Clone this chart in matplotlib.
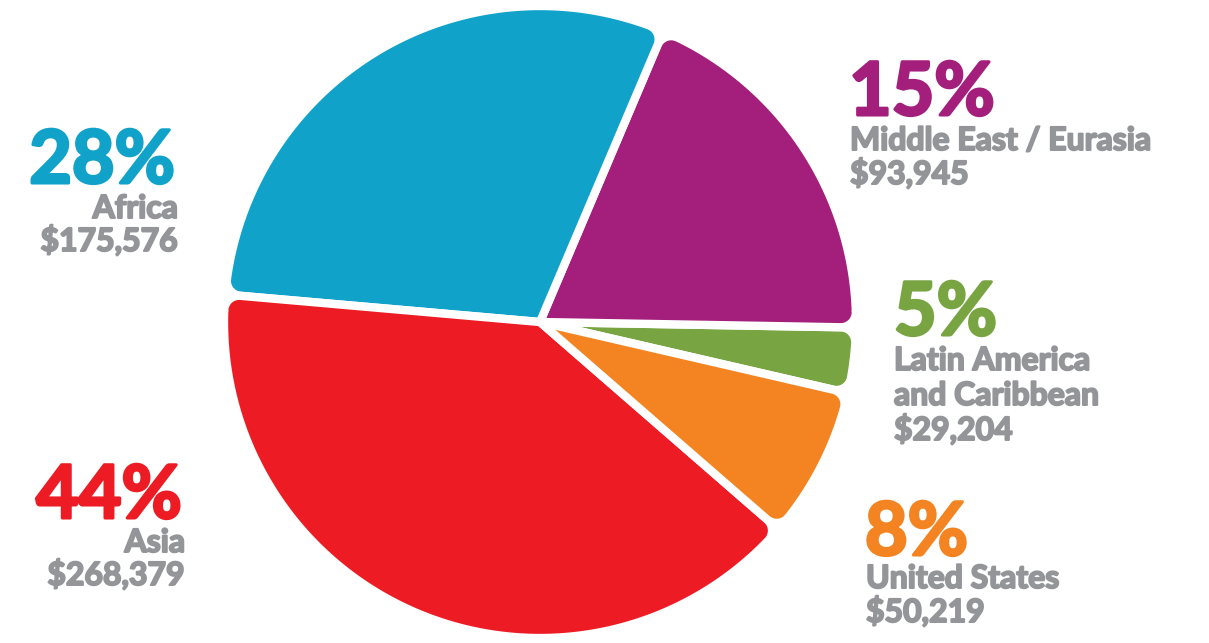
import numpy as np
import matplotlib
matplotlib.use("Agg")
import matplotlib.pyplot as plt
import matplotlib.patheffects as pe
from matplotlib.patches import Polygon

plt.rcParams['font.family'] = ['Lato', 'DejaVu Sans']

W, H = 1209, 643

# slices in drawing order (counter-clockwise from the right)
regions = ['Latin America\nand Caribbean', 'Middle East / Eurasia', 'Africa', 'Asia', 'United States']
pct_labels = ['5%', '15%', '28%', '44%', '8%']
amounts = ['$29,204', '$93,945', '$175,576', '$268,379', '$50,219']
# slice sizes as drawn in the picture (degrees of the circle)
wedge_deg = [12, 68, 108, 144, 28]
explode = [0, 0, 0, 0.022, 0]
colors = ['#78A542', '#A31F7B', '#11A2CA', '#ED1C24', '#F48421']
gray = '#939598'

cx, cy, R = 540, H - 322, 316


def rounded_wedge(c, r, t1, t2, rho, n=30):
    u = lambda a: np.column_stack([np.cos(np.radians(a)), np.sin(np.radians(a))])
    phi = np.degrees(np.arcsin(rho / (r - rho)))
    c = np.asarray(c)
    fc1 = c + (r - rho) * u(t1 + phi)[0]
    fc2 = c + (r - rho) * u(t2 - phi)[0]
    arc1 = fc1 + rho * u(np.linspace(t1 - 90, t1 + phi, n))
    outer = c + r * u(np.linspace(t1 + phi, t2 - phi, 200))
    arc2 = fc2 + rho * u(np.linspace(t2 - phi, t2 + 90, n))
    return np.vstack([c, arc1, outer, arc2, c])


fig = plt.figure(figsize=(W / 100, H / 100), dpi=100)
ax = fig.add_axes([0, 0, 1, 1])
wedges, _ = ax.pie(wedge_deg, colors=colors, startangle=-13, counterclock=True,
                   center=(cx, cy), radius=R, explode=explode)
for w, col in zip(wedges, colors):
    pts = rounded_wedge(w.center, w.r, w.theta1, w.theta2, rho=15)
    w.remove()
    ax.add_patch(Polygon(pts, closed=True, facecolor=col, edgecolor='white',
                         linewidth=6, joinstyle='round'))
ax.set_xlim(0, W)
ax.set_ylim(0, H)
ax.set_aspect('equal')
ax.axis('off')


def pct(x, y, s, col, ha):
    ax.text(x, y, s, color=col, ha=ha, va='baseline', fontsize=53, fontweight='bold',
            path_effects=[pe.withStroke(linewidth=2.2, foreground=col)])


def lab(x, y, s, ha):
    ax.text(x, y, s, color=gray, ha=ha, va='baseline', fontsize=23, fontweight='bold',
            path_effects=[pe.withStroke(linewidth=1.4, foreground=gray)])


# Africa (left, right aligned)
pct(175, H - 183, pct_labels[2], colors[2], 'right')
lab(178, H - 218, regions[2], 'right')
lab(178, H - 251, amounts[2], 'right')

# Asia
pct(182, H - 518, pct_labels[3], colors[3], 'right')
lab(185, H - 552, regions[3], 'right')
lab(185, H - 585, amounts[3], 'right')

# Middle East / Eurasia
pct(849, H - 115, pct_labels[1], colors[1], 'left')
lab(850, H - 150, regions[1], 'left')
lab(850, H - 184, amounts[1], 'left')

# Latin America and Caribbean
pct(894, H - 335, pct_labels[0], colors[0], 'left')
lab(894, H - 370, 'Latin America', 'left')
lab(894, H - 405, 'and Caribbean', 'left')
lab(894, H - 440, amounts[0], 'left')

# United States
pct(865, H - 555, pct_labels[4], colors[4], 'left')
lab(866, H - 588, regions[4], 'left')
lab(866, H - 622, amounts[4], 'left')

fig.savefig('out.png', dpi=100, facecolor='white')
